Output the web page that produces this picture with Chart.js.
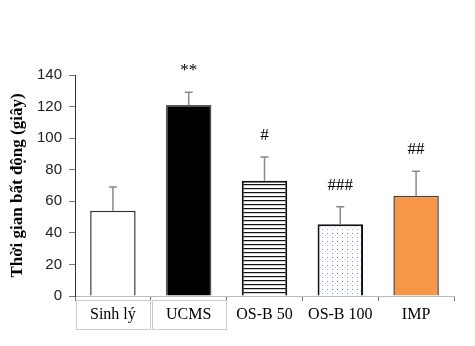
<!DOCTYPE html>
<html>
<head>
<meta charset="utf-8">
<script src="https://cdn.jsdelivr.net/npm/chart.js@4/dist/chart.umd.min.js"></script>
<style>
  body { margin: 0; background: #fff; }
</style>
</head>
<body>
<canvas id="myChart" width="475" height="346"></canvas>
<script>
const categories = ["Sinh lý", "UCMS", "OS-B 50", "OS-B 100", "IMP"];
const means = [54, 121, 73, 45.5, 63.5];
const sds = [15, 8, 15, 11, 15.5];
const marks = ["", "**", "#", "###", "##"];
const yTicks = [0, 20, 40, 60, 80, 100, 120, 140];

// hatch fill for OS-B 50: thin black horizontal lines
function stripePattern() {
  let c = document.createElement("canvas");
  c.width = 4;
  c.height = 4;
  let g = c.getContext("2d");
  g.fillStyle = "#fff";
  g.fillRect(0, 0, 4, 4);
  g.fillStyle = "#111";
  g.fillRect(0, 0, 4, 1.2);
  return g.createPattern(c, "repeat");
}

// small blue dots for OS-B 100
function dotPattern() {
  let c = document.createElement("canvas");
  c.width = 5;
  c.height = 8;
  let g = c.getContext("2d");
  g.fillStyle = "#fff";
  g.fillRect(0, 0, 5, 8);
  g.fillStyle = "rgba(50,100,210,0.85)";
  g.fillRect(2, 1, 1, 1);
  g.fillStyle = "rgba(90,140,220,0.7)";
  g.fillRect(2, 5, 1, 1);
  g.fillStyle = "rgba(140,175,235,0.5)";
  g.fillRect(0, 3, 1, 1);
  return g.createPattern(c, "repeat");
}

const fills = ["#ffffff", "#000000", stripePattern(), dotPattern(), "#F79646"];
const borders = ["#333333", "#555555", "#111111", "#111111", "#404040"];
const borderWidths = [1.5, 1.5, 2, 2, 1.5];

const errorBars = {
  id: "errorBars",
  afterDatasetsDraw(chart) {
    let ctx = chart.ctx;
    let y = chart.scales.y;
    let meta = chart.getDatasetMeta(0);
    ctx.save();
    meta.data.forEach((bar, i) => {
      let top = y.getPixelForValue(means[i] + sds[i]);
      ctx.strokeStyle = "#888";
      ctx.lineWidth = 1.5;
      ctx.beginPath();
      ctx.moveTo(bar.x, bar.y);
      ctx.lineTo(bar.x, top);
      ctx.moveTo(bar.x - 4, top);
      ctx.lineTo(bar.x + 4, top);
      ctx.stroke();

      if (marks[i]) {
        ctx.fillStyle = "#000";
        ctx.font = "17px 'Liberation Serif', serif";
        ctx.textAlign = "center";
        ctx.textBaseline = "alphabetic";
        ctx.fillText(marks[i], bar.x, top - 17);
      }
    });

    // light boxes round the first two labels
    ctx.strokeStyle = "#cccccc";
    ctx.lineWidth = 1;
    let x = chart.scales.x;
    [0, 1].forEach((i) => {
      let cx = x.getPixelForValue(i);
      ctx.strokeRect(Math.round(cx - 37) + 0.5, 300.5, 74, 29);
    });
    ctx.restore();
  },
};

new Chart(document.getElementById("myChart"), {
  type: "bar",
  data: {
    labels: categories,
    datasets: [
      {
        data: means,
        backgroundColor: fills,
        borderColor: borders,
        borderWidth: borderWidths,
        barPercentage: 0.6,
        categoryPercentage: 1.0,
      },
    ],
  },
  options: {
    responsive: false,
    animation: false,
    devicePixelRatio: 1,
    layout: { padding: { left: 0, top: 75, right: 21, bottom: 0 } },
    plugins: {
      legend: { display: false },
      tooltip: { enabled: false },
    },
    scales: {
      x: {
        afterFit: (scale) => {
          scale.height = 50;
        },
        grid: { offset: true, drawOnChartArea: false, tickLength: 5, color: "#777" },
        border: { color: "#bbbbbb" },
        ticks: {
          color: "#000",
          padding: 4,
          font: { family: "'Liberation Serif', serif", size: 16 },
        },
      },
      y: {
        min: 0,
        max: 140,
        afterFit: (scale) => {
          scale.width = 75;
        },
        afterBuildTicks: (scale) => {
          scale.ticks = yTicks.map((v) => ({ value: v }));
        },
        grid: { drawOnChartArea: false, tickLength: 6, color: "#777" },
        border: { color: "#333" },
        ticks: {
          color: "#222",
          padding: 7,
          font: { family: "'Liberation Sans', Arial, sans-serif", size: 15 },
        },
        title: {
          display: true,
          text: "Thời gian bất động (giây)",
          color: "#000",
          padding: { top: 7, bottom: 0 },
          font: { family: "'Liberation Serif', serif", size: 17, weight: "bold" },
        },
      },
    },
  },
  plugins: [errorBars],
});
</script>
</body>
</html>
